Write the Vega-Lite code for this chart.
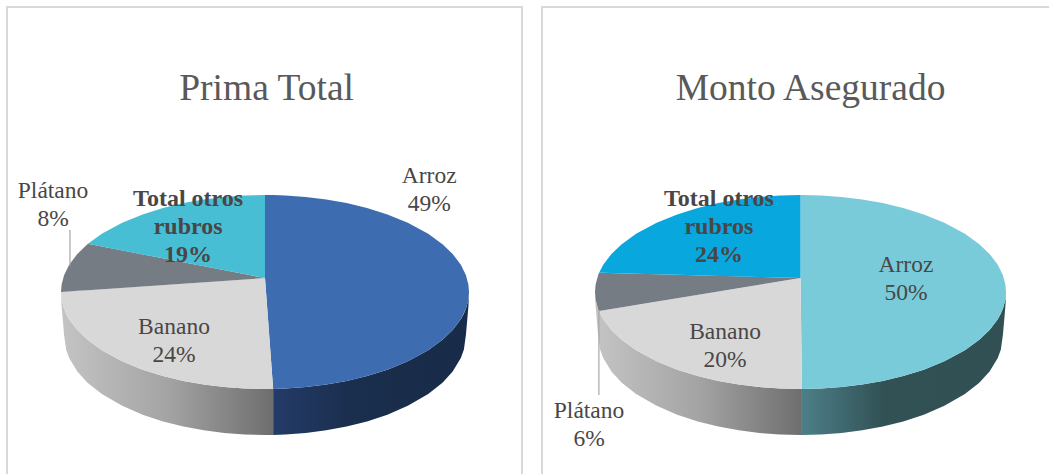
{"$schema":"https://vega.github.io/schema/vega-lite/v6.json","padding":{"left":6,"top":6,"right":0,"bottom":0},"background":"white","spacing":18,"config":{"view":{"stroke":"#d9d9d9","strokeWidth":2},"text":{"font":"Liberation Serif"}},"resolve":{"scale":{"color":"independent","x":"independent","y":"independent"}},
"datasets":{
"primaCara":[
{"rubro":"Arroz","x":0,"y":1,"y2":0.144},{"rubro":"Arroz","x":0.04,"y":0.999,"y2":-0.999},{"rubro":"Arroz","x":0.1,"y":0.995,"y2":-0.995},{"rubro":"Arroz","x":0.2,"y":0.98,"y2":-0.98},{"rubro":"Arroz","x":0.3,"y":0.954,"y2":-0.954},{"rubro":"Arroz","x":0.4,"y":0.917,"y2":-0.917},{"rubro":"Arroz","x":0.5,"y":0.866,"y2":-0.866},{"rubro":"Arroz","x":0.6,"y":0.8,"y2":-0.8},{"rubro":"Arroz","x":0.7,"y":0.714,"y2":-0.714},{"rubro":"Arroz","x":0.8,"y":0.6,"y2":-0.6},{"rubro":"Arroz","x":0.87,"y":0.493,"y2":-0.493},{"rubro":"Arroz","x":0.92,"y":0.392,"y2":-0.392},{"rubro":"Arroz","x":0.96,"y":0.28,"y2":-0.28},{"rubro":"Arroz","x":0.985,"y":0.173,"y2":-0.173},{"rubro":"Arroz","x":0.997,"y":0.077,"y2":-0.077},{"rubro":"Arroz","x":1,"y":0,"y2":0},
{"rubro":"Banano","x":-1,"y":0,"y2":0},{"rubro":"Banano","x":-0.997,"y":0.0004,"y2":-0.077},{"rubro":"Banano","x":-0.985,"y":0.002,"y2":-0.173},{"rubro":"Banano","x":-0.96,"y":0.006,"y2":-0.28},{"rubro":"Banano","x":-0.92,"y":0.012,"y2":-0.392},{"rubro":"Banano","x":-0.87,"y":0.019,"y2":-0.493},{"rubro":"Banano","x":-0.8,"y":0.029,"y2":-0.6},{"rubro":"Banano","x":-0.7,"y":0.043,"y2":-0.714},{"rubro":"Banano","x":-0.6,"y":0.058,"y2":-0.8},{"rubro":"Banano","x":-0.5,"y":0.072,"y2":-0.866},{"rubro":"Banano","x":-0.4,"y":0.086,"y2":-0.917},{"rubro":"Banano","x":-0.3,"y":0.101,"y2":-0.954},{"rubro":"Banano","x":-0.2,"y":0.115,"y2":-0.98},{"rubro":"Banano","x":-0.1,"y":0.13,"y2":-0.995},{"rubro":"Banano","x":0,"y":0.144,"y2":-1},{"rubro":"Banano","x":0.04,"y":-0.999,"y2":-0.999},
{"rubro":"Plátano","x":-1,"y":0,"y2":0},{"rubro":"Plátano","x":-0.997,"y":0.077,"y2":0.0004},{"rubro":"Plátano","x":-0.985,"y":0.173,"y2":0.002},{"rubro":"Plátano","x":-0.96,"y":0.28,"y2":0.006},{"rubro":"Plátano","x":-0.92,"y":0.392,"y2":0.012},{"rubro":"Plátano","x":-0.868,"y":0.497,"y2":0.019},{"rubro":"Plátano","x":0,"y":0.144,"y2":0.144},
{"rubro":"Total otros rubros","x":-0.868,"y":0.497,"y2":0.497},{"rubro":"Total otros rubros","x":-0.8,"y":0.6,"y2":0.469},{"rubro":"Total otros rubros","x":-0.7,"y":0.714,"y2":0.429},{"rubro":"Total otros rubros","x":-0.6,"y":0.8,"y2":0.388},{"rubro":"Total otros rubros","x":-0.5,"y":0.866,"y2":0.347},{"rubro":"Total otros rubros","x":-0.4,"y":0.917,"y2":0.307},{"rubro":"Total otros rubros","x":-0.3,"y":0.954,"y2":0.266},{"rubro":"Total otros rubros","x":-0.2,"y":0.98,"y2":0.225},{"rubro":"Total otros rubros","x":-0.1,"y":0.995,"y2":0.185},{"rubro":"Total otros rubros","x":0,"y":1,"y2":0.144}
],
"montoCara":[
{"rubro":"Arroz","x":0,"y":1,"y2":0.144},{"rubro":"Arroz","x":0.007,"y":1,"y2":-1},{"rubro":"Arroz","x":0.1,"y":0.995,"y2":-0.995},{"rubro":"Arroz","x":0.2,"y":0.98,"y2":-0.98},{"rubro":"Arroz","x":0.3,"y":0.954,"y2":-0.954},{"rubro":"Arroz","x":0.4,"y":0.917,"y2":-0.917},{"rubro":"Arroz","x":0.5,"y":0.866,"y2":-0.866},{"rubro":"Arroz","x":0.6,"y":0.8,"y2":-0.8},{"rubro":"Arroz","x":0.7,"y":0.714,"y2":-0.714},{"rubro":"Arroz","x":0.8,"y":0.6,"y2":-0.6},{"rubro":"Arroz","x":0.87,"y":0.493,"y2":-0.493},{"rubro":"Arroz","x":0.92,"y":0.392,"y2":-0.392},{"rubro":"Arroz","x":0.96,"y":0.28,"y2":-0.28},{"rubro":"Arroz","x":0.985,"y":0.173,"y2":-0.173},{"rubro":"Arroz","x":0.997,"y":0.077,"y2":-0.077},{"rubro":"Arroz","x":1,"y":0,"y2":0},
{"rubro":"Banano","x":-0.981,"y":-0.196,"y2":-0.196},{"rubro":"Banano","x":-0.96,"y":-0.189,"y2":-0.28},{"rubro":"Banano","x":-0.92,"y":-0.175,"y2":-0.392},{"rubro":"Banano","x":-0.87,"y":-0.158,"y2":-0.493},{"rubro":"Banano","x":-0.8,"y":-0.133,"y2":-0.6},{"rubro":"Banano","x":-0.7,"y":-0.099,"y2":-0.714},{"rubro":"Banano","x":-0.6,"y":-0.064,"y2":-0.8},{"rubro":"Banano","x":-0.5,"y":-0.029,"y2":-0.866},{"rubro":"Banano","x":-0.4,"y":0.005,"y2":-0.917},{"rubro":"Banano","x":-0.3,"y":0.04,"y2":-0.954},{"rubro":"Banano","x":-0.2,"y":0.075,"y2":-0.98},{"rubro":"Banano","x":-0.1,"y":0.109,"y2":-0.995},{"rubro":"Banano","x":0,"y":0.144,"y2":-1},{"rubro":"Banano","x":0.007,"y":-1,"y2":-1},
{"rubro":"Plátano","x":-1,"y":0,"y2":0},{"rubro":"Plátano","x":-0.997,"y":0.077,"y2":-0.077},{"rubro":"Plátano","x":-0.985,"y":0.173,"y2":-0.173},{"rubro":"Plátano","x":-0.981,"y":0.194,"y2":-0.196},{"rubro":"Plátano","x":-0.98,"y":0.199,"y2":-0.196},{"rubro":"Plátano","x":0,"y":0.144,"y2":0.144},
{"rubro":"Total otros rubros","x":-0.98,"y":0.199,"y2":0.199},{"rubro":"Total otros rubros","x":-0.96,"y":0.28,"y2":0.198},{"rubro":"Total otros rubros","x":-0.92,"y":0.392,"y2":0.196},{"rubro":"Total otros rubros","x":-0.87,"y":0.493,"y2":0.193},{"rubro":"Total otros rubros","x":-0.8,"y":0.6,"y2":0.189},{"rubro":"Total otros rubros","x":-0.7,"y":0.714,"y2":0.183},{"rubro":"Total otros rubros","x":-0.6,"y":0.8,"y2":0.178},{"rubro":"Total otros rubros","x":-0.5,"y":0.866,"y2":0.172},{"rubro":"Total otros rubros","x":-0.4,"y":0.917,"y2":0.166},{"rubro":"Total otros rubros","x":-0.3,"y":0.954,"y2":0.161},{"rubro":"Total otros rubros","x":-0.2,"y":0.98,"y2":0.155},{"rubro":"Total otros rubros","x":-0.1,"y":0.995,"y2":0.15},{"rubro":"Total otros rubros","x":0,"y":1,"y2":0.144}
],
"lateralIzq":[
{"x":-1,"y":0,"y2":-0.03},{"x":-0.997,"y":-0.077,"y2":-0.15},{"x":-0.985,"y":-0.173,"y2":-0.44},{"x":-0.975,"y":-0.222,"y2":-0.592},{"x":-0.96,"y":-0.28,"y2":-0.681},{"x":-0.92,"y":-0.392,"y2":-0.82},{"x":-0.87,"y":-0.493,"y2":-0.934},{"x":-0.8,"y":-0.6,"y2":-1.051},{"x":-0.7,"y":-0.714,"y2":-1.173},{"x":-0.6,"y":-0.8,"y2":-1.264},{"x":-0.5,"y":-0.866,"y2":-1.334},{"x":-0.4,"y":-0.917,"y2":-1.387},{"x":-0.3,"y":-0.954,"y2":-1.426},{"x":-0.2,"y":-0.98,"y2":-1.453},{"x":-0.1,"y":-0.995,"y2":-1.469},{"x":0,"y":-1,"y2":-1.474},{"x":0.04,"y":-0.999,"y2":-1.473}
],
"lateralDer":[
{"x":0.04,"y":-0.999,"y2":-1.473},{"x":0.1,"y":-0.995,"y2":-1.469},{"x":0.2,"y":-0.98,"y2":-1.453},{"x":0.3,"y":-0.954,"y2":-1.426},{"x":0.4,"y":-0.917,"y2":-1.387},{"x":0.5,"y":-0.866,"y2":-1.334},{"x":0.6,"y":-0.8,"y2":-1.264},{"x":0.7,"y":-0.714,"y2":-1.173},{"x":0.8,"y":-0.6,"y2":-1.051},{"x":0.87,"y":-0.493,"y2":-0.934},{"x":0.92,"y":-0.392,"y2":-0.82},{"x":0.96,"y":-0.28,"y2":-0.681},{"x":0.975,"y":-0.222,"y2":-0.592},{"x":0.985,"y":-0.173,"y2":-0.44},{"x":0.997,"y":-0.077,"y2":-0.15},{"x":1,"y":0,"y2":-0.03}
],
"lateralIzqMonto":[
{"x":-1,"y":0,"y2":-0.03},{"x":-0.997,"y":-0.077,"y2":-0.15},{"x":-0.985,"y":-0.173,"y2":-0.44},{"x":-0.975,"y":-0.222,"y2":-0.592},{"x":-0.96,"y":-0.28,"y2":-0.681},{"x":-0.92,"y":-0.392,"y2":-0.82},{"x":-0.87,"y":-0.493,"y2":-0.934},{"x":-0.8,"y":-0.6,"y2":-1.051},{"x":-0.7,"y":-0.714,"y2":-1.173},{"x":-0.6,"y":-0.8,"y2":-1.264},{"x":-0.5,"y":-0.866,"y2":-1.334},{"x":-0.4,"y":-0.917,"y2":-1.387},{"x":-0.3,"y":-0.954,"y2":-1.426},{"x":-0.2,"y":-0.98,"y2":-1.453},{"x":-0.1,"y":-0.995,"y2":-1.469},{"x":0,"y":-1,"y2":-1.474},{"x":0.007,"y":-1,"y2":-1.474}
],
"lateralDerMonto":[
{"x":0.007,"y":-1,"y2":-1.474},{"x":0.1,"y":-0.995,"y2":-1.469},{"x":0.2,"y":-0.98,"y2":-1.453},{"x":0.3,"y":-0.954,"y2":-1.426},{"x":0.4,"y":-0.917,"y2":-1.387},{"x":0.5,"y":-0.866,"y2":-1.334},{"x":0.6,"y":-0.8,"y2":-1.264},{"x":0.7,"y":-0.714,"y2":-1.173},{"x":0.8,"y":-0.6,"y2":-1.051},{"x":0.87,"y":-0.493,"y2":-0.934},{"x":0.92,"y":-0.392,"y2":-0.82},{"x":0.96,"y":-0.28,"y2":-0.681},{"x":0.975,"y":-0.222,"y2":-0.592},{"x":0.985,"y":-0.173,"y2":-0.44},{"x":0.997,"y":-0.077,"y2":-0.15},{"x":1,"y":0,"y2":-0.03}
]
},
"hconcat":[
{"width":515,"height":474,
"encoding":{"x":{"field":"x","type":"quantitative","axis":null,"scale":{"domain":[-1.2647,1.2598],"nice":false,"zero":false}},"y":{"field":"y","type":"quantitative","axis":null,"scale":{"domain":[-1.948,2.938],"nice":false,"zero":false}}},
"layer":[
{"data":{"name":"lateralIzq"},"mark":{"type":"area","color":{"gradient":"linear","x1":0,"x2":1,"y1":0,"y2":0,"stops":[{"offset":0,"color":"#c4c4c4"},{"offset":0.5,"color":"#a4a4a4"},{"offset":1,"color":"#6e6e6e"}]}},"encoding":{"y2":{"field":"y2"}}},
{"data":{"name":"lateralDer"},"mark":{"type":"area","color":{"gradient":"linear","x1":0,"x2":1,"y1":0,"y2":0,"stops":[{"offset":0,"color":"#233b68"},{"offset":0.4,"color":"#1a2e4d"},{"offset":1,"color":"#182c49"}]}},"encoding":{"y2":{"field":"y2"}}},
{"data":{"name":"primaCara"},"mark":{"type":"area"},"encoding":{"y2":{"field":"y2"},"color":{"field":"rubro","type":"nominal","legend":null,"scale":{"domain":["Arroz","Banano","Plátano","Total otros rubros"],"range":["#3d6cb0","#d8d8d8","#767c84","#47bed3"]}}}},
{"data":{"values":[{"rubro":"Plátano","x":-0.956,"y":0.639,"y2":0.268}]},"mark":{"type":"rule","color":"#a6a6a6","strokeWidth":1.2},"encoding":{"y2":{"field":"y2"}}},
{"data":{"values":[{"rubro":"Arroz","share":49,"label":["Arroz","49%"],"x":0.805,"y":1.201},{"rubro":"Banano","share":24,"label":["Banano","24%"],"x":-0.446,"y":-0.361},{"rubro":"Plátano","share":8,"label":["Plátano","8%"],"x":-1.039,"y":1.041}]},"mark":{"type":"text","fontSize":23.5,"lineHeight":28,"color":"#4a4646","baseline":"middle"},"encoding":{"text":{"field":"label"}}},
{"data":{"values":[{"rubro":"Total otros rubros","share":19,"label":["Total otros","rubros","19%"],"x":-0.377,"y":0.959}]},"mark":{"type":"text","fontSize":24,"fontWeight":"bold","lineHeight":28,"color":"#4a4646","baseline":"middle"},"encoding":{"text":{"field":"label"}}},
{"data":{"values":[{"titulo":"Prima Total","x":0.008,"y":2.093}]},"mark":{"type":"text","fontSize":37.5,"color":"#595959","baseline":"middle"},"encoding":{"text":{"field":"titulo"}}}
]},
{"width":516,"height":474,
"encoding":{"x":{"field":"x","type":"quantitative","axis":null,"scale":{"domain":[-1.2579,1.253],"nice":false,"zero":false}},"y":{"field":"y","type":"quantitative","axis":null,"scale":{"domain":[-1.948,2.938],"nice":false,"zero":false}}},
"layer":[
{"data":{"name":"lateralIzqMonto"},"mark":{"type":"area","color":{"gradient":"linear","x1":0,"x2":1,"y1":0,"y2":0,"stops":[{"offset":0,"color":"#c4c4c4"},{"offset":0.5,"color":"#a4a4a4"},{"offset":1,"color":"#6e6e6e"}]}},"encoding":{"y2":{"field":"y2"}}},
{"data":{"name":"lateralDerMonto"},"mark":{"type":"area","color":{"gradient":"linear","x1":0,"x2":1,"y1":0,"y2":0,"stops":[{"offset":0,"color":"#4d7f88"},{"offset":0.4,"color":"#315155"},{"offset":1,"color":"#305054"}]}},"encoding":{"y2":{"field":"y2"}}},
{"data":{"name":"montoCara"},"mark":{"type":"area"},"encoding":{"y2":{"field":"y2"},"color":{"field":"rubro","type":"nominal","legend":null,"scale":{"domain":["Arroz","Banano","Plátano","Total otros rubros"],"range":["#79cbd9","#d8d8d8","#767c84","#08a7dd"]}}}},
{"data":{"values":[{"rubro":"Plátano","x":-0.981,"y":-0.196,"y2":-1.062}]},"mark":{"type":"rule","color":"#a6a6a6","strokeWidth":1.2},"encoding":{"y2":{"field":"y2"}}},
{"data":{"values":[{"rubro":"Arroz","share":50,"label":["Arroz","50%"],"x":0.513,"y":0.278},{"rubro":"Banano","share":20,"label":["Banano","20%"],"x":-0.367,"y":-0.413},{"rubro":"Plátano","share":6,"label":["Plátano","6%"],"x":-1.029,"y":-1.227}]},"mark":{"type":"text","fontSize":23.5,"lineHeight":28,"color":"#4a4646","baseline":"middle"},"encoding":{"text":{"field":"label"}}},
{"data":{"values":[{"rubro":"Total otros rubros","share":24,"label":["Total otros","rubros","24%"],"x":-0.397,"y":0.959}]},"mark":{"type":"text","fontSize":24,"fontWeight":"bold","lineHeight":28,"color":"#4a4646","baseline":"middle"},"encoding":{"text":{"field":"label"}}},
{"data":{"values":[{"titulo":"Monto Asegurado","x":0.049,"y":2.093}]},"mark":{"type":"text","fontSize":37.5,"color":"#595959","baseline":"middle"},"encoding":{"text":{"field":"titulo"}}}
]}
]}
